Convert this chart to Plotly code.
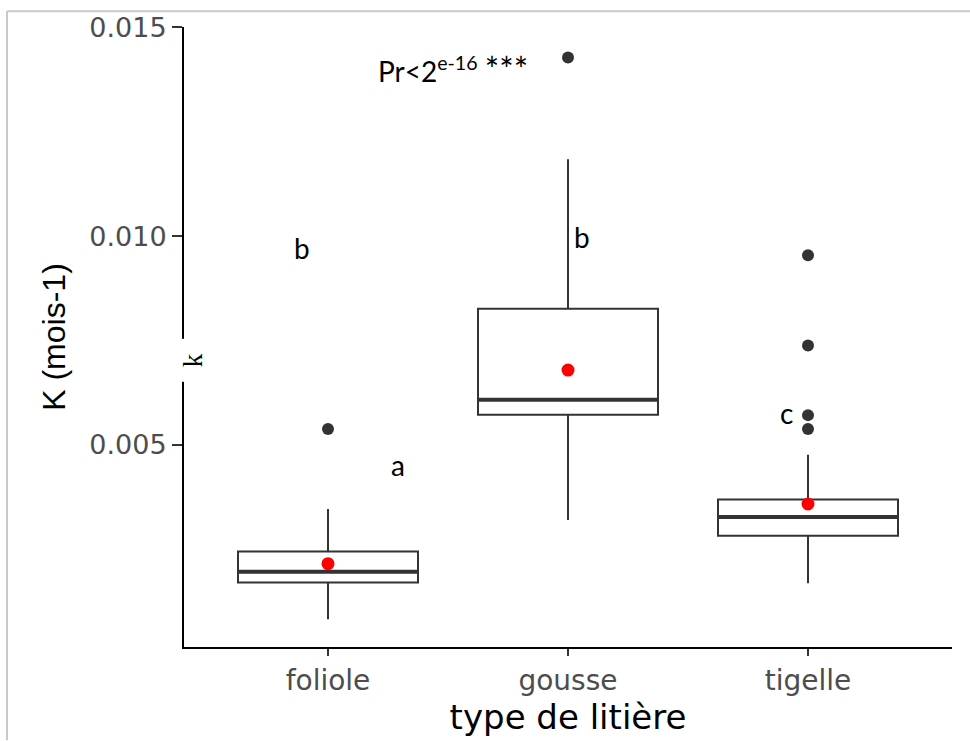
import plotly.graph_objects as go

# ---- data ----
categories = ["foliole", "gousse", "tigelle"]
q1 = [0.00170, 0.00572, 0.00282]
median = [0.00196, 0.00608, 0.00327]
q3 = [0.00244, 0.00826, 0.00369]
lower_whisker = [0.00082, 0.00320, 0.00168]
upper_whisker = [0.00346, 0.01184, 0.00476]
means = [0.00215, 0.00679, 0.00358]
outliers = [[0.00538], [0.01428], [0.00954, 0.00738, 0.00571, 0.00538]]

letter_text = ["b", "a", "b", "c"]
letter_x = [-0.11, 0.29, 1.06, 1.91]
letter_y = [0.00971, 0.00451, 0.00997, 0.00577]

signif_text = "Pr&lt;2<sup>e-16</sup> <span style='font-size:34px'>***</span>"
y_ticks = [0.005, 0.010, 0.015]

# ---- styles ----
BOX_W = 0.75
DARK = "#333333"
idx = list(range(len(categories)))

fig = go.Figure()

fig.add_trace(go.Box(
    x=idx, q1=q1, median=median, q3=q3,
    lowerfence=lower_whisker, upperfence=upper_whisker,
    width=BOX_W, whiskerwidth=0, boxpoints=False,
    fillcolor="white", line=dict(color=DARK, width=2),
    showlegend=False, hoverinfo="skip",
))

# thicker median bars
for i, m in zip(idx, median):
    fig.add_trace(go.Scatter(
        x=[i - BOX_W / 2, i + BOX_W / 2], y=[m, m], mode="lines",
        line=dict(color=DARK, width=4), showlegend=False, hoverinfo="skip",
    ))

# outliers
ox, oy = [], []
for i, vals in zip(idx, outliers):
    for v in vals:
        ox.append(i)
        oy.append(v)
fig.add_trace(go.Scatter(
    x=ox, y=oy, mode="markers",
    marker=dict(color=DARK, size=12), showlegend=False,
))

# means
fig.add_trace(go.Scatter(
    x=idx, y=means, mode="markers",
    marker=dict(color="#FF0000", size=13), showlegend=False,
))

annotations = []
for t, x, y in zip(letter_text, letter_x, letter_y):
    annotations.append(dict(
        x=x, y=y, xref="x", yref="y", text=t, showarrow=False,
        font=dict(family="Lato", size=28, color="black"),
        xanchor="center", yanchor="middle",
    ))
annotations.append(dict(
    x=0.52, y=0.01401, xref="x", yref="y", text=signif_text, showarrow=False,
    font=dict(family="Lato", size=28, color="black"),
    xanchor="center", yanchor="middle",
))
# the odd "k" covering the y axis line
annotations.append(dict(
    x=0.0117, y=0.4624, xref="paper", yref="paper", text="k", showarrow=False,
    textangle=-90, bgcolor="white", borderpad=14,
    font=dict(family="Liberation Serif", size=27, color="black"),
    xanchor="center", yanchor="middle",
))

fig.update_layout(
    width=970, height=741,
    margin=dict(l=184, r=18, t=22, b=94),
    plot_bgcolor="white", paper_bgcolor="white",
    annotations=annotations,
    shapes=[
        dict(type="line", xref="paper", yref="paper",
             x0=-0.2305, x1=-0.2305, y0=-0.1504, y1=1.0256,
             line=dict(color="#c8c8c8", width=2)),
        dict(type="line", xref="paper", yref="paper",
             x0=-0.2305, x1=1.0234, y0=1.0256, y1=1.0256,
             line=dict(color="#c8c8c8", width=2)),
    ],
    xaxis=dict(
        range=[-0.6, 2.6], tickmode="array", tickvals=idx, ticktext=categories,
        showline=True, linecolor="black", linewidth=2,
        ticks="outside", ticklen=7, tickwidth=1.5, tickcolor=DARK,
        tickfont=dict(family="DejaVu Sans", size=28, color="#4d4d4d"),
        showgrid=False, zeroline=False,
        title=dict(text="type de litière", standoff=6,
                   font=dict(family="DejaVu Sans", size=34, color="black")),
    ),
    yaxis=dict(
        range=[0.000154, 0.01501], tickmode="array", tickvals=y_ticks,
        tickformat=".3f",
        showline=True, linecolor="black", linewidth=2,
        ticks="outside", ticklen=10, tickwidth=1.5, tickcolor=DARK,
        tickfont=dict(family="DejaVu Sans", size=27, color="#4d4d4d"),
        showgrid=False, zeroline=False,
        title=dict(text="K (mois-1)", standoff=14,
                   font=dict(family="Liberation Sans", size=32, color="black")),
    ),
)

fig.write_html("out.html")
